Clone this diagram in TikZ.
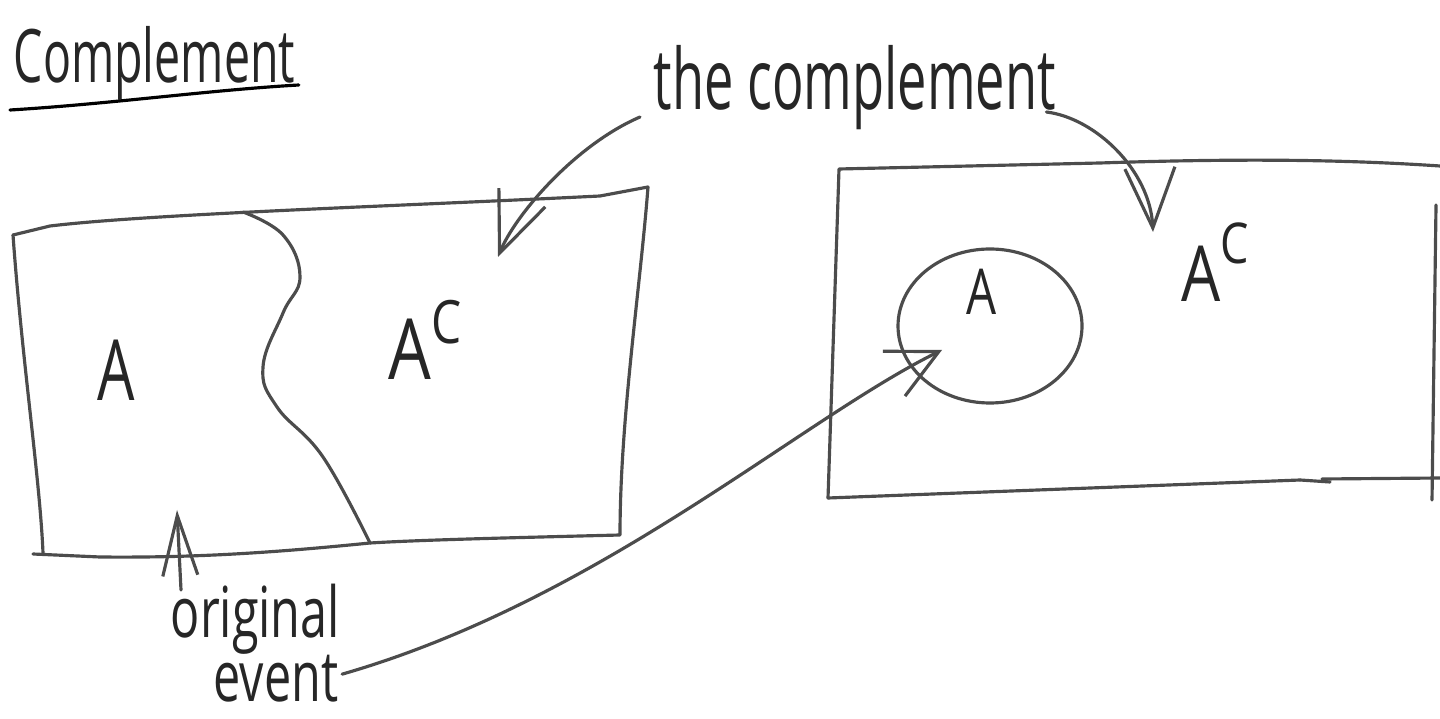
\documentclass[tikz,border=0pt]{standalone}
\usepackage{fontspec}
\setmainfont{Open Sans}
\usetikzlibrary{arrows.meta,positioning}
\newcommand{\hand}[3]{\scalebox{#1}[1]{\fontsize{#2}{#2}\selectfont #3}}
\newcommand{\compl}[3]{\hand{0.8}{#1}{A\raisebox{#3}{\fontsize{#2}{#2}\selectfont C}}}
\begin{document}
\begin{tikzpicture}[x=0.01cm, y=-0.01cm,
    pen/.style={line width=0.9pt, draw=black!70, line cap=round, line join=round},
    barb/.style={-{Straight Barb[length=6mm,width=5mm]}},
    lbl/.style={inner sep=0pt, text=black!85}]
  \useasboundingbox (0,0) rectangle (1440,719);
  % title
  \node[lbl, anchor=base west] (title) at (13,83) {\hand{0.63}{21}{Complement}};
  \draw[pen, black] ([shift={(-3,27)}]title.base west) .. controls (110,104) and (210,90) .. ([shift={(3,2)}]title.base east);
  % left sample space, split in two
  \draw[pen] (13,235) -- (50,226) .. controls (150,214) and (400,206) .. (600,196) -- (648,187)
    .. controls (640,290) and (620,420) .. (620,535)
    .. controls (500,538) and (420,540) .. (370,543)
    .. controls (280,552) and (200,558) .. (100,557) -- (33,554);
  \draw[pen] (13,235) .. controls (22,360) and (40,480) .. (43,553);
  \draw[pen] plot[smooth, tension=0.7] coordinates {(243,212) (283,235) (300,277) (283,313) (263,367) (277,407) (323,457) (370,543)};
  \node[lbl] (lA) at (116,370) {\hand{0.7}{24}{A}};
  \node[lbl] (lAc) at (425,340) {\compl{24}{17}{0.42em}};
  % right sample space with event A inside
  \draw[pen] (828,498) -- (1300,480);
  \draw[pen] (1300,480) -- (1330,482);
  \draw[pen] (1322,479) -- (1440,478);
  \draw[pen] (828,498) -- (839,169) -- (1100,163) .. controls (1250,158) and (1350,160) .. (1440,166);
  \draw[pen] (1436,205) -- (1432,500);
  \draw[pen] (990,326) ellipse [x radius=92, y radius=77];
  \node[lbl] (cA) at (982,292) {\hand{0.75}{18}{A}};
  \node[lbl] (rAc) at (1215,262) {\compl{22}{16}{0.5em}};
  % labels and pointers
  \node[lbl, anchor=base west] (thecomp) at (653,110) {\hand{0.62}{24}{the complement}};
  \node[lbl, anchor=base west] (orig) at (170,637) {\hand{0.69}{20}{original}};
  \node[lbl, anchor=base west] (event) at ([shift={(43,64)}]orig.base west) {\hand{0.69}{20}{event}};
  \coordinate (tipL) at (498,257);
  \coordinate (tipR) at (1153,232);
  \coordinate (tipC) at (942,350);
  \coordinate (tipU) at (177,510);
  \coordinate (tailU) at (181,590);
  \draw[pen, barb] ([shift={(-13,7)}]thecomp.base west) .. controls (575,145) and (515,215) .. (tipL);
  \draw[pen, barb] ([shift={(-10,2)}]thecomp.base east) .. controls (1095,118) and (1150,170) .. (tipR);
  \draw[pen, -{Straight Barb[length=5mm,width=5mm]}] ([shift={(3,-4)}]event.east) .. controls (600,600) and (800,420) .. (tipC);
  \draw[pen, -{Straight Barb[length=6mm,width=3.5mm]}] (tailU) -- (tipU);
\end{tikzpicture}
\end{document}
